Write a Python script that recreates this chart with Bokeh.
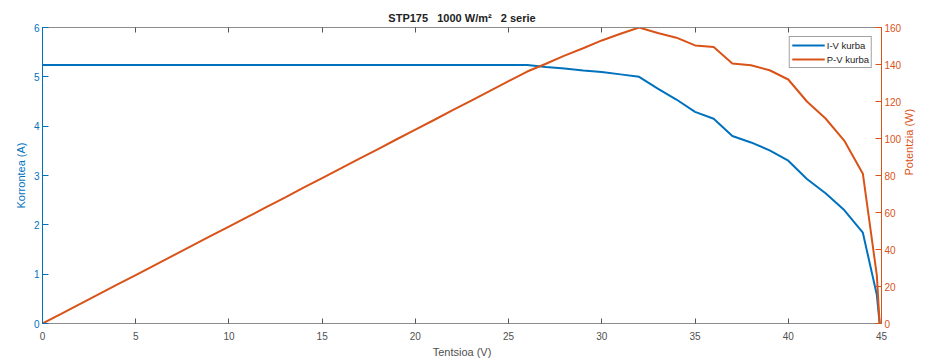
import math
from bokeh.plotting import figure
from bokeh.models import LinearAxis, Range1d, Legend, LegendItem, FixedTicker, ColumnDataSource
from bokeh.embed import file_html
from bokeh.resources import INLINE

# Voltage (V), current (A), power (W)
voltage = [0, 1, 2, 3, 4, 5, 6, 7, 8, 9, 10, 11, 12, 13, 14, 15, 16, 17, 18, 19, 20,
           21, 22, 23, 24, 25, 26, 27, 28, 29, 30, 31, 32, 33, 34, 35, 36, 37, 38,
           39, 40, 41, 42, 43, 44, 44.75, 44.9]
current = [5.24] * 27 + [5.20, 5.17, 5.13, 5.10, 5.05, 5.00, 4.76, 4.54, 4.29, 4.15,
                         3.80, 3.67, 3.51, 3.30, 2.93, 2.64, 2.30, 1.84, 0.58, 0.0]
power = [0.0, 5.2, 10.5, 15.7, 21.0, 26.2, 31.4, 36.7, 41.9, 47.2, 52.4, 57.6, 62.9,
         68.1, 73.4, 78.6, 83.8, 89.1, 94.3, 99.6, 104.8, 110.0, 115.3, 120.5, 125.8,
         131.0, 136.2, 140.4, 144.8, 148.8, 153.0, 156.6, 160.0, 157.0, 154.5, 150.3,
         149.4, 140.6, 139.6, 136.9, 131.9, 120.0, 110.8, 98.9, 81.0, 26.0, 0.0]

x_ticks = [0, 5, 10, 15, 20, 25, 30, 35, 40, 45]
i_ticks = [0, 1, 2, 3, 4, 5, 6]
p_ticks = [0, 20, 40, 60, 80, 100, 120, 140, 160]

NB = "\u00a0"
title_text = "STP175" + NB * 3 + "1000 W/m\u00b2" + NB * 3 + "2 serie"
BLUE = "#0072BD"
ORANGE = "#D95319"
GREY = "#8c8c8c"
TXT = "#505050"
FONT = "Liberation Sans"

src = ColumnDataSource(dict(v=voltage, i=current, p=power))

p = figure(width=929, height=361, x_range=Range1d(0, 45), y_range=Range1d(0, 6),
           output_backend="svg", toolbar_location=None,
           min_border_left=42, min_border_right=48, min_border_top=27, min_border_bottom=38)
p.extra_y_ranges = {"pow": Range1d(0, 160)}

p.title.text = title_text
p.title.align = "center"
p.title.text_font = FONT
p.title.text_font_size = "11px"
p.title.text_font_style = "bold"
p.title.text_color = "#222222"
p.title.offset = 0
p.title.standoff = 8

p.grid.visible = False
p.outline_line_color = GREY
p.outline_line_width = 1

# bottom axis
xa = p.xaxis[0]
xa.ticker = FixedTicker(ticks=x_ticks)
xa.axis_label = "Tentsioa (V)"
xa.axis_line_color = GREY
xa.major_tick_line_color = "#555555"
xa.major_tick_in = 5
xa.major_tick_out = 0
xa.minor_tick_line_color = None
xa.major_label_text_font = FONT
xa.major_label_text_font_size = "10px"
xa.major_label_text_color = TXT
xa.major_label_standoff = 8
xa.axis_label_text_font = FONT
xa.axis_label_text_font_size = "11px"
xa.axis_label_text_font_style = "normal"
xa.axis_label_text_color = TXT
xa.axis_label_standoff = 3

# top axis (ticks only)
ta = LinearAxis(ticker=FixedTicker(ticks=x_ticks), major_label_text_color=None,
                major_label_text_font_size="10px",
                axis_line_color=GREY, major_tick_line_color="#555555",
                major_tick_in=5, major_tick_out=0, minor_tick_line_color=None,
                major_label_standoff=0)
p.add_layout(ta, "above")

# left axis
ya = p.yaxis[0]
ya.ticker = FixedTicker(ticks=i_ticks)
ya.axis_label = "Korrontea (A)"
ya.axis_line_color = BLUE
ya.major_tick_line_color = BLUE
ya.major_tick_in = 6
ya.major_tick_out = 0
ya.minor_tick_line_color = None
ya.major_label_text_font = FONT
ya.major_label_text_font_size = "10px"
ya.major_label_text_color = BLUE
ya.major_label_standoff = 3
ya.axis_label_text_font = FONT
ya.axis_label_text_font_size = "11px"
ya.axis_label_text_font_style = "normal"
ya.axis_label_text_color = BLUE
ya.axis_label_standoff = 4

# right axis
ra = LinearAxis(y_range_name="pow", ticker=FixedTicker(ticks=p_ticks),
                axis_label="Potentzia (W)")
ra.axis_line_color = ORANGE
ra.major_tick_line_color = ORANGE
ra.major_tick_in = 6
ra.major_tick_out = 0
ra.minor_tick_line_color = None
ra.major_label_text_font = FONT
ra.major_label_text_font_size = "10px"
ra.major_label_text_color = ORANGE
ra.major_label_standoff = 3
ra.axis_label_text_font = FONT
ra.axis_label_text_font_size = "11px"
ra.axis_label_text_font_style = "normal"
ra.axis_label_text_color = ORANGE
ra.axis_label_standoff = 5
ra.axis_label_orientation = math.pi / 2
p.add_layout(ra, "right")

r_iv = p.line("v", "i", source=src, line_color=BLUE, line_width=2)
r_pv = p.line("v", "p", source=src, line_color=ORANGE, line_width=2, y_range_name="pow")

legend = Legend(items=[LegendItem(label="I-V kurba", renderers=[r_iv]),
                       LegendItem(label="P-V kurba", renderers=[r_pv])],
                location="top_right")
legend.label_text_font = FONT
legend.label_text_font_size = "9.5px"
legend.label_text_color = "#222222"
legend.glyph_width = 33
legend.glyph_height = 12
legend.label_height = 12
legend.label_standoff = 2
legend.padding = 2
legend.spacing = 2
legend.margin = 9
legend.border_line_color = "#444444"
legend.border_line_width = 1
legend.background_fill_alpha = 1
p.add_layout(legend)

open("out.html", "w").write(file_html(p, INLINE))
